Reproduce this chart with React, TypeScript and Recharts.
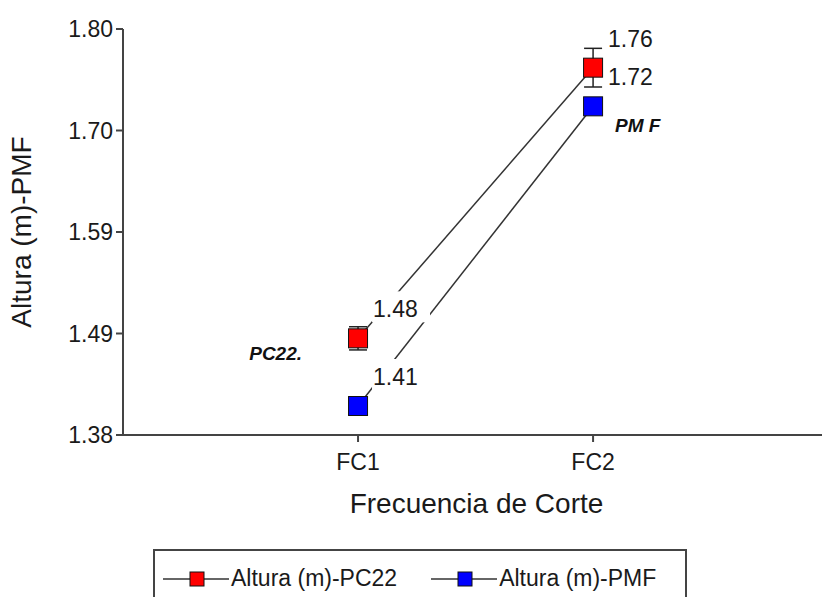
import { LineChart, Line, XAxis, YAxis, ErrorBar, LabelList, Legend } from "recharts";

const FONT = '"Liberation Sans", Arial, sans-serif';

const categories = ["FC1", "FC2"];
const pc22Values = [1.48, 1.76];
const pc22Errors = [0.012, 0.02];
const pmfValues = [1.41, 1.72];
const pc22Tags = ["PC22.", ""];
const pmfTags = ["", "PM F"];
const yTicks = [1.38, 1.485, 1.59, 1.695, 1.8];
const yTickLabels = ["1.38", "1.49", "1.59", "1.70", "1.80"];

const seriesNames = ["Altura (m)-PC22", "Altura (m)-PMF"];
const seriesFills = ["#ff0000", "#0000ff"];

const data = categories.map((name, i) => ({
  pos: i + 1,
  name,
  pc22: pc22Values[i],
  pc22Err: pc22Errors[i],
  pmf: pmfValues[i],
  pc22Tag: pc22Tags[i],
  pmfTag: pmfTags[i],
}));

const squareDot = (fill: string) => (props: any) => {
  const { cx, cy, index } = props;
  if (cx == null || cy == null) return <g key={`d-${index}`} />;
  return (
    <rect
      key={`d-${index}`}
      x={cx - 9.5}
      y={cy - 9.5}
      width={19}
      height={19}
      fill={fill}
      stroke="#111"
      strokeWidth={1}
    />
  );
};

function pointOf(props: any) {
  const vb = props.viewBox || {};
  return { x: props.x ?? vb.x, y: props.y ?? vb.y };
}

// value label with a white box, so the connecting line stops short of it
function ValueLabel(props: any) {
  const { x, y } = pointOf(props);
  if (x == null || y == null) return null;
  return (
    <g>
      <rect x={x + 14} y={y - 47} width={58} height={31} fill="#fff" />
      <text x={x + 15} y={y - 21} fontSize={23} fill="#1a1a1a" fontFamily={FONT}>
        {Number(props.value).toFixed(2)}
      </text>
    </g>
  );
}

const tagLabel = (dx: number, dy: number, anchor: "start" | "end") => (props: any) => {
  const { x, y } = pointOf(props);
  if (!props.value || x == null || y == null) return null;
  return (
    <text
      x={x + dx}
      y={y + dy}
      textAnchor={anchor}
      fontSize={19}
      fontWeight="bold"
      fontStyle="italic"
      fill="#111"
      fontFamily={FONT}
    >
      {props.value}
    </text>
  );
};

function LegendBox() {
  return (
    <div
      style={{
        border: "2px solid #444",
        height: 70,
        boxSizing: "border-box",
        display: "flex",
        alignItems: "flex-start",
        paddingTop: 14,
        paddingLeft: 8,
        fontFamily: FONT,
        fontSize: 23,
        color: "#1a1a1a",
        whiteSpace: "nowrap",
      }}
    >
      {seriesNames.map((name, i) => (
        <div
          key={name}
          style={{ display: "flex", alignItems: "center", marginRight: 34, flexShrink: 0 }}
        >
          <svg width={68} height={20} style={{ flexShrink: 0 }}>
            <line x1={0} y1={10} x2={66} y2={10} stroke="#333" strokeWidth={1.5} />
            <rect x={27} y={3} width={14} height={14} fill={seriesFills[i]} stroke="#111" />
          </svg>
          <span>{name}</span>
        </div>
      ))}
    </div>
  );
}

export default function App() {
  return (
    <div
      style={{
        position: "fixed",
        left: 0,
        top: 0,
        width: 822,
        height: 597,
        overflow: "hidden",
        background: "#fff",
      }}
    >
      <LineChart
        width={822}
        height={597}
        data={data}
        margin={{ top: 29, right: 0, left: 0, bottom: 82 }}
      >
        <XAxis
          dataKey="pos"
          type="number"
          domain={[0, 2.974]}
          ticks={[1, 2]}
          allowDataOverflow
          tickFormatter={(v: number) => categories[v - 1] ?? ""}
          height={80}
          tickSize={7}
          tickMargin={12}
          axisLine={{ stroke: "#444", strokeWidth: 2 }}
          tickLine={{ stroke: "#444", strokeWidth: 2 }}
          tick={{ fontSize: 23, fill: "#1a1a1a", fontFamily: FONT }}
          label={{
            value: "Frecuencia de Corte",
            position: "insideBottom",
            offset: 2,
            dx: 4,
            style: { fontSize: 28, fill: "#1a1a1a", fontFamily: FONT },
          }}
        />
        <YAxis
          type="number"
          domain={[1.38, 1.8]}
          ticks={yTicks}
          allowDataOverflow
          width={123}
          tickSize={7}
          tickMargin={3}
          tickFormatter={(v: number) => yTickLabels[yTicks.indexOf(v)] ?? ""}
          axisLine={{ stroke: "#444", strokeWidth: 2 }}
          tickLine={{ stroke: "#444", strokeWidth: 2 }}
          tick={{ fontSize: 23, fill: "#1a1a1a", fontFamily: FONT }}
          label={{
            value: "Altura (m)-PMF",
            angle: -90,
            position: "insideLeft",
            offset: 25,
            dx: -4,
            style: { fontSize: 28, fill: "#1a1a1a", fontFamily: FONT, textAnchor: "middle" },
          }}
        />
        <Legend
          layout="horizontal"
          verticalAlign="middle"
          align="center"
          wrapperStyle={{ left: 153, top: 549, width: 534 }}
          content={() => <LegendBox />}
        />
        <Line
          dataKey="pc22"
          name={seriesNames[0]}
          stroke="#333"
          strokeWidth={1.5}
          dot={squareDot(seriesFills[0])}
          activeDot={false}
          isAnimationActive={false}
        >
          <ErrorBar dataKey="pc22Err" direction="y" width={9} stroke="#222" strokeWidth={1.5} />
          <LabelList dataKey="pc22" content={ValueLabel} />
          <LabelList dataKey="pc22Tag" content={tagLabel(-56, 22, "end")} />
        </Line>
        <Line
          dataKey="pmf"
          name={seriesNames[1]}
          stroke="#333"
          strokeWidth={1.5}
          dot={squareDot(seriesFills[1])}
          activeDot={false}
          isAnimationActive={false}
        >
          <LabelList dataKey="pmf" content={ValueLabel} />
          <LabelList dataKey="pmfTag" content={tagLabel(22, 26, "start")} />
        </Line>
      </LineChart>
    </div>
  );
}
